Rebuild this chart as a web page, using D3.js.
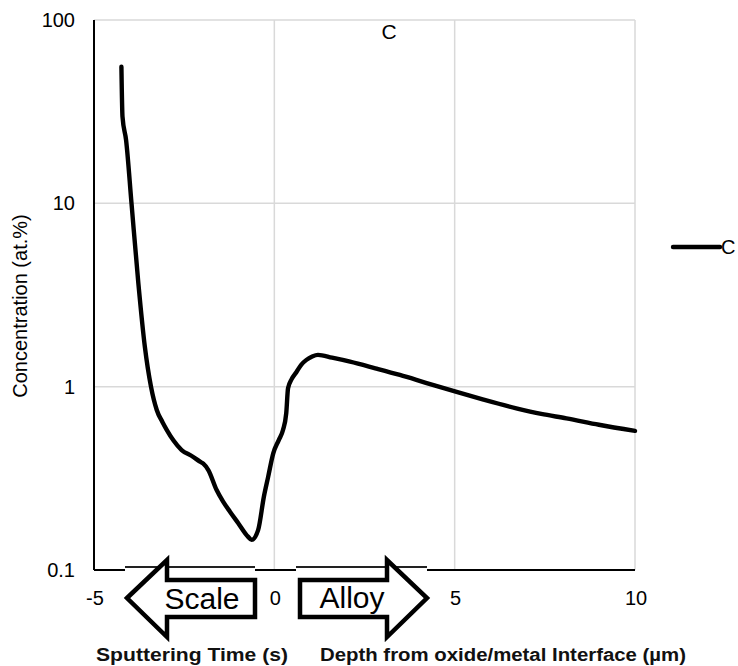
<!DOCTYPE html>
<html>
<head>
<meta charset="utf-8">
<script src="https://cdn.jsdelivr.net/npm/d3@7"></script>
<style>
  html, body { margin: 0; padding: 0; background: #fff; }
  svg { display: block; font-family: "Liberation Sans", Arial, sans-serif; }
</style>
</head>
<body>
<svg id="chart" width="738" height="666"></svg>
<script>
// ---- data ----
const seriesName = "C";
const depth = [-4.24, -4.21, -4.11, -3.96, -3.77, -3.59, -3.42, -3.26, -3.10, -2.98, -2.80, -2.57, -2.30, -2.06, -1.97, -1.83, -1.60, -1.42, -1.23, -1.00, -0.73, -0.63, -0.45, -0.29, -0.17, -0.03, 0.12, 0.24, 0.33, 0.38, 0.48, 0.61, 0.75, 0.89, 1.05, 1.21, 1.60, 2.10, 2.80, 3.48, 4.20, 5.03, 5.80, 6.71, 7.40, 8.10, 9.00, 10.0];
const concentration = [55.6, 29.7, 22.1, 10.0, 3.66, 1.65, 1.0, 0.746, 0.64, 0.58, 0.51, 0.451, 0.42, 0.390, 0.38, 0.351, 0.273, 0.236, 0.208, 0.18, 0.152, 0.146, 0.165, 0.251, 0.323, 0.433, 0.51, 0.58, 0.716, 0.98, 1.10, 1.20, 1.32, 1.40, 1.46, 1.49, 1.44, 1.37, 1.26, 1.158, 1.05, 0.939, 0.85, 0.762, 0.71, 0.672, 0.62, 0.574];
const xTicks = [-5, 0, 5, 10];
const xTickLabels = ["-5", "0", "5", "10"];
const yTicks = [0.1, 1, 10, 100];
const yTickLabels = ["0.1", "1", "10", "100"];
const yTitle = "Concentration (at.%)";
const xTitleLeft = "Sputtering Time (s)";
const xTitleRight = "Depth from oxide/metal Interface (µm)";
const arrowLeftText = "Scale";
const arrowRightText = "Alloy";

(function () {
const svg = d3.select("#chart");
const pL = 94, pR = 635, pT = 20, pB = 570;
const x = d3.scaleLinear().domain([-5, 10]).range([pL, pR]);
const y = d3.scaleLog().domain([0.1, 100]).range([pB, pT]);

// gridlines
const grid = svg.append("g");
grid.selectAll("line.h").data(yTicks.filter(d => d > 0.1)).join("line")
  .attr("x1", pL).attr("x2", pR)
  .attr("y1", d => y(d)).attr("y2", d => y(d))
  .attr("stroke", "#d9d9d9").attr("stroke-width", 1.5);
grid.selectAll("line.v").data(xTicks.filter(d => d > -5)).join("line")
  .attr("x1", d => x(d)).attr("x2", d => x(d))
  .attr("y1", pT).attr("y2", pB)
  .attr("stroke", "#d9d9d9").attr("stroke-width", 1.5);

// axes lines
svg.append("line").attr("x1", pL).attr("x2", pL).attr("y1", pT).attr("y2", pB)
  .attr("stroke", "#000").attr("stroke-width", 2);
svg.append("line").attr("x1", pL).attr("x2", pR).attr("y1", pB).attr("y2", pB)
  .attr("stroke", "#000").attr("stroke-width", 2);

// tick labels
svg.append("g").selectAll("text").data(yTicks).join("text")
  .attr("x", 75).attr("y", d => y(d) + 7)
  .attr("text-anchor", "end").attr("font-size", 20).attr("fill", "#000")
  .text((d, i) => yTickLabels[i]);
svg.append("g").selectAll("text").data(xTicks).join("text")
  .attr("x", d => x(d) + 1).attr("y", 605)
  .attr("text-anchor", "middle").attr("font-size", 20).attr("fill", "#000")
  .text((d, i) => xTickLabels[i]);

// y title
svg.append("text")
  .attr("transform", "translate(27,306) rotate(-90)")
  .attr("text-anchor", "middle").attr("font-size", 20).attr("fill", "#000")
  .text(yTitle);

// chart title
svg.append("text").attr("x", 389).attr("y", 39)
  .attr("text-anchor", "middle").attr("font-size", 21).attr("fill", "#000")
  .text(seriesName);

// series line
const line = d3.line().x((d, i) => x(depth[i])).y(d => y(d)).curve(d3.curveMonotoneX);
svg.append("path").datum(concentration)
  .attr("d", line)
  .attr("fill", "none").attr("stroke", "#000").attr("stroke-width", 4.4)
  .attr("stroke-linecap", "round").attr("stroke-linejoin", "round");

// legend
svg.append("line").attr("x1", 673).attr("x2", 720).attr("y1", 247).attr("y2", 247)
  .attr("stroke", "#000").attr("stroke-width", 4.4).attr("stroke-linecap", "round");
svg.append("text").attr("x", 721).attr("y", 254)
  .attr("font-size", 20).attr("fill", "#000").text(seriesName);

// arrow annotation images (white backing with top edge covering the axis)
function arrowBox(x0, x1) {
  svg.append("rect").attr("x", x0).attr("y", 567).attr("width", x1 - x0).attr("height", 70)
    .attr("fill", "#fff");
  svg.append("line").attr("x1", x0).attr("x2", x1).attr("y1", 567).attr("y2", 567)
    .attr("stroke", "#222").attr("stroke-width", 2);
}
arrowBox(125, 255);
arrowBox(296, 427);

svg.append("path")
  .attr("d", "M127,598 L167,560 L167,580 L255,580 L255,617 L167,617 L167,637 Z")
  .attr("fill", "#fff").attr("stroke", "#000").attr("stroke-width", 4.5).attr("stroke-linejoin", "miter");
svg.append("path")
  .attr("d", "M300,580 L387,580 L387,560 L427,598 L387,637 L387,617 L300,617 Z")
  .attr("fill", "#fff").attr("stroke", "#000").attr("stroke-width", 4.5).attr("stroke-linejoin", "miter");

svg.append("text").attr("x", 202).attr("y", 609)
  .attr("text-anchor", "middle").attr("font-size", 30).attr("fill", "#000").text(arrowLeftText);
svg.append("text").attr("x", 352).attr("y", 608)
  .attr("text-anchor", "middle").attr("font-size", 30).attr("fill", "#000").text(arrowRightText);

// bottom titles
svg.append("text").attr("x", 96).attr("y", 661)
  .attr("font-size", 18).attr("font-weight", "bold").attr("fill", "#111")
  .attr("textLength", 192).attr("lengthAdjust", "spacingAndGlyphs")
  .text(xTitleLeft);
svg.append("text").attr("x", 320).attr("y", 661)
  .attr("font-size", 18).attr("font-weight", "bold").attr("fill", "#111")
  .attr("textLength", 366).attr("lengthAdjust", "spacingAndGlyphs")
  .text(xTitleRight);
})();
</script>
</body>
</html>
